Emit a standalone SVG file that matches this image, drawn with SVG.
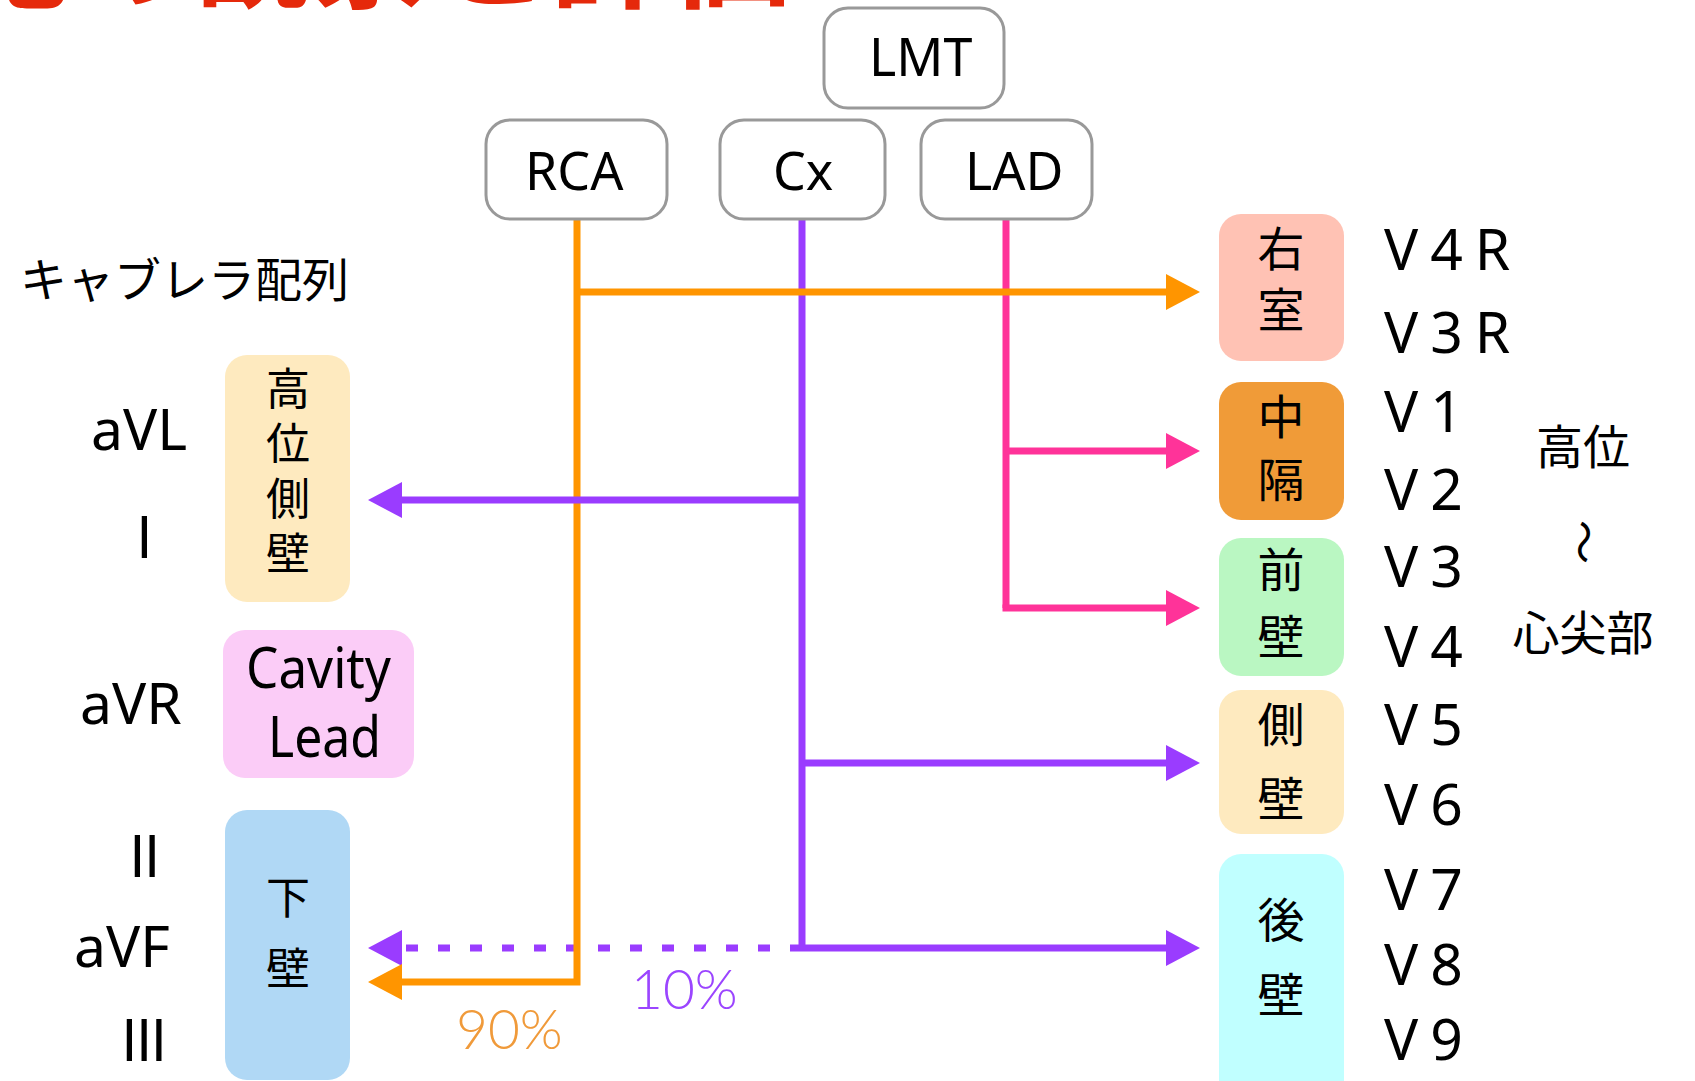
<svg xmlns="http://www.w3.org/2000/svg" width="1695" height="1081" viewBox="0 0 1695 1081">
<style>
.lat{font-family:"Noto Sans","Noto Sans CJK JP",sans-serif;fill:#000;}
.jp{font-family:"Noto Sans CJK JP","Noto Sans",sans-serif;fill:#000;}
.rn{font-family:"Noto Sans CJK JP",sans-serif;fill:#000;font-size:57px;}
.top rect{fill:#fff;stroke:#999;stroke-width:3;}
.ln{fill:none;stroke-width:7;}
.or{stroke:#FF9500;}
.pu{stroke:#9A3CFF;}
.pk{stroke:#FF3399;}
.vt{font-family:"Noto Sans CJK JP",sans-serif;fill:#000;writing-mode:vertical-rl;font-size:47px;}
.vs{font-size:44px;}
.vl{font-size:57px;letter-spacing:12px;}
</style>
<defs>
<marker id="aOr" markerUnits="userSpaceOnUse" markerWidth="34" markerHeight="36" refX="14" refY="18" orient="auto"><path d="M0,0L34,18L0,36z" fill="#FF9500"/></marker>
<marker id="aPu" markerUnits="userSpaceOnUse" markerWidth="34" markerHeight="36" refX="14" refY="18" orient="auto"><path d="M0,0L34,18L0,36z" fill="#9A3CFF"/></marker>
<marker id="aPk" markerUnits="userSpaceOnUse" markerWidth="34" markerHeight="36" refX="14" refY="18" orient="auto"><path d="M0,0L34,18L0,36z" fill="#FF3399"/></marker>
</defs>
<rect width="1695" height="1081" fill="#fff"/>
<text x="790" y="-1" text-anchor="end" style="font-family:'Noto Sans CJK JP',sans-serif;font-weight:bold;font-size:120px;fill:#E5290B">ST変化の観察と評価</text>

<g id="connectors">
<line class="ln pu" x1="802" y1="219" x2="802" y2="951"/>
<line class="ln pk" x1="1006" y1="219" x2="1006" y2="608"/>
<line class="ln pu" x1="802" y1="948" x2="388" y2="948" stroke-dasharray="12 20" marker-end="url(#aPu)"/>
<path class="ln or" d="M577,219V982H388" marker-end="url(#aOr)"/>
<path class="ln or" d="M577,292H1180" marker-end="url(#aOr)"/>
<path class="ln pu" d="M802,500H388" marker-end="url(#aPu)"/>
<path class="ln pk" d="M1006,451H1180" marker-end="url(#aPk)"/>
<path class="ln pk" d="M1006,604.5V608H1180" marker-end="url(#aPk)"/>
<path class="ln pu" d="M802,763H1180" marker-end="url(#aPu)"/>
<path class="ln pu" d="M802,948H1180" marker-end="url(#aPu)"/>
</g>

<g id="LMT" class="top"><rect x="824" y="8" width="180" height="100" rx="24"/><text class="lat" x="869" y="76" font-size="52">LMT</text></g>
<g id="RCA" class="top"><rect x="486" y="120" width="181" height="99" rx="24"/><text class="lat" x="525" y="190" font-size="52">RCA</text></g>
<g id="Cx" class="top"><rect x="720" y="120" width="165" height="99" rx="24"/><text class="lat" x="773" y="190" font-size="52">Cx</text></g>
<g id="LAD" class="top"><rect x="921" y="120" width="171" height="99" rx="24"/><text class="lat" x="965" y="190" font-size="52">LAD</text></g>

<text class="jp" x="20" y="297" font-size="47">キャブレラ配列</text>

<g id="high-lateral">
<rect x="225" y="355" width="125" height="247" rx="22" fill="#FEEABF"/>
<text class="vt vs" x="288" y="366" letter-spacing="11">高位側壁</text>
</g>
<g id="cavity">
<rect x="223" y="630" width="191" height="148" rx="22" fill="#FBCCF7"/>
<text class="lat" x="246" y="688" font-size="56" textLength="145" lengthAdjust="spacingAndGlyphs">Cavity</text>
<text class="lat" x="268" y="757" font-size="56" textLength="113" lengthAdjust="spacingAndGlyphs">Lead</text>
</g>
<g id="inferior">
<rect x="225" y="810" width="125" height="270" rx="22" fill="#B0D8F5"/>
<text class="vt vs" x="288" y="875" letter-spacing="27">下壁</text>
</g>

<g id="left-leads">
<text class="lat" x="91" y="450" font-size="57">aVL</text>
<text class="rn" x="136" y="558">I</text>
<text class="lat" x="80" y="724" font-size="57">aVR</text>
<text class="rn" x="129" y="877" letter-spacing="-2">II</text>
<text class="lat" x="74" y="967" font-size="57">aVF</text>
<text class="rn" x="121" y="1061" letter-spacing="-2">III</text>
</g>

<g id="rv">
<rect x="1219" y="214" width="125" height="147" rx="22" fill="#FFC2B4"/>
<text class="vt" x="1281" y="225" letter-spacing="14">右室</text>
</g>
<g id="septum">
<rect x="1219" y="382" width="125" height="138" rx="22" fill="#F09B38"/>
<text class="vt" x="1281" y="393" letter-spacing="16">中隔</text>
</g>
<g id="anterior">
<rect x="1219" y="538" width="125" height="138" rx="22" fill="#BAF7C2"/>
<text class="vt" x="1281" y="546" letter-spacing="20">前壁</text>
</g>
<g id="lateral">
<rect x="1219" y="690" width="125" height="144" rx="22" fill="#FEEABF"/>
<text class="vt" x="1281" y="701" letter-spacing="27">側壁</text>
</g>
<g id="posterior">
<rect x="1219" y="854" width="125" height="250" rx="22" fill="#C0FFFF"/>
<text class="vt" x="1281" y="896" letter-spacing="28">後壁</text>
</g>

<g id="right-leads">
<text class="lat vl" x="1384" y="270">V4R</text>
<text class="lat vl" x="1384" y="353">V3R</text>
<text class="lat vl" x="1384" y="432">V1</text>
<text class="lat vl" x="1384" y="510">V2</text>
<text class="lat vl" x="1384" y="587">V3</text>
<text class="lat vl" x="1384" y="667">V4</text>
<text class="lat vl" x="1384" y="745">V5</text>
<text class="lat vl" x="1384" y="825">V6</text>
<text class="lat vl" x="1384" y="910">V7</text>
<text class="lat vl" x="1384" y="985">V8</text>
<text class="lat vl" x="1384" y="1060">V9</text>
</g>

<g id="range">
<text class="jp" x="1583" y="464" font-size="47" text-anchor="middle">高位</text>
<text class="jp" x="0" y="0" font-size="44" text-anchor="middle" transform="translate(1582,542) rotate(90) translate(0,15)">〜</text>
<text class="jp" x="1583" y="650" font-size="47" text-anchor="middle">心尖部</text>
</g>

<text x="456" y="1049" style="font-family:Lato,sans-serif;font-weight:300;font-size:55px;fill:#F09A3A">90%</text>
<text x="631" y="1009" style="font-family:Lato,sans-serif;font-weight:300;font-size:55px;fill:#9B45FF">10%</text>
</svg>
